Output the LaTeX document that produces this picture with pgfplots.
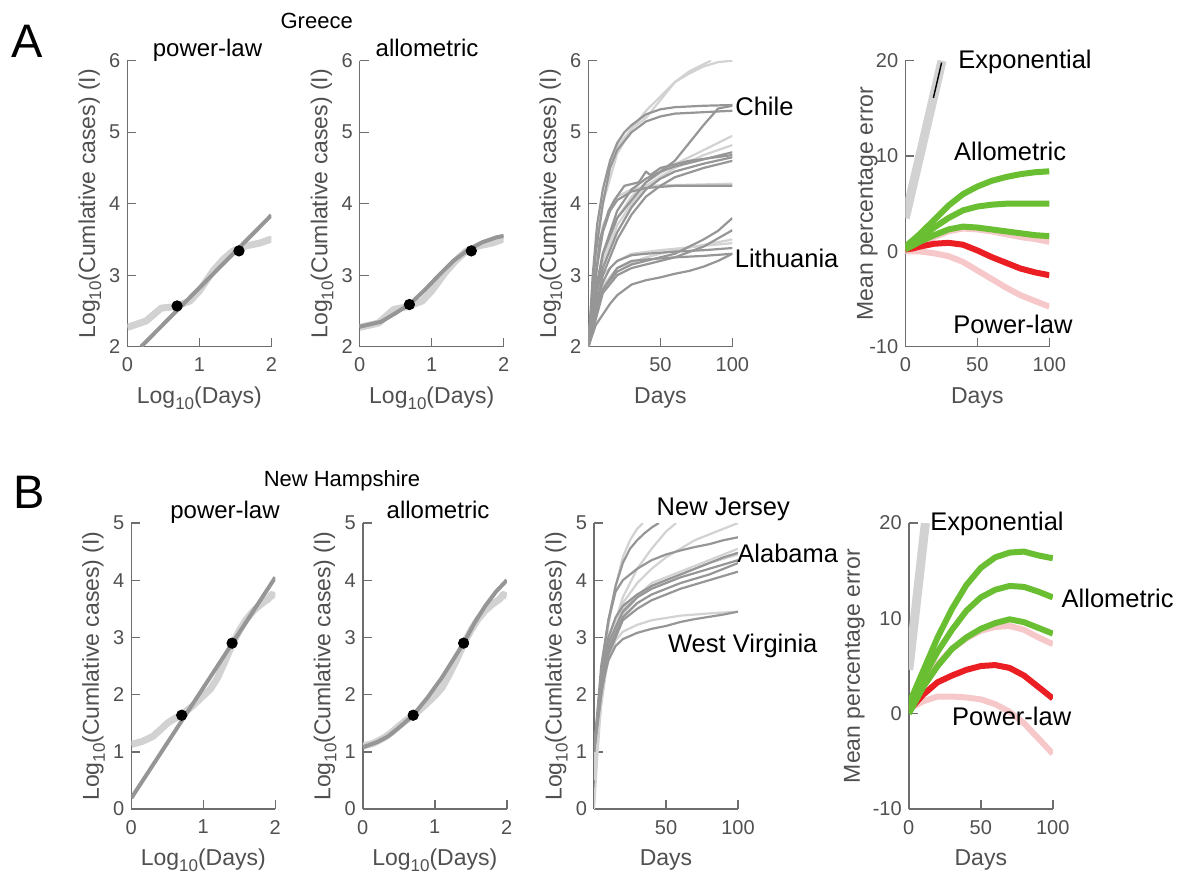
\documentclass[border=0pt]{standalone}
\usepackage{pgfplots}
\pgfplotsset{compat=1.18}
\usepackage{fontspec}
\setmainfont{Liberation Sans}

\definecolor{axgray}{RGB}{110,110,110}
\definecolor{tkgray}{RGB}{80,80,80}
\definecolor{dgray}{RGB}{150,150,150}
\definecolor{lgray}{RGB}{210,210,210}
\definecolor{mgreen}{RGB}{105,190,50}
\definecolor{mred}{RGB}{235,30,35}
\definecolor{mpink}{RGB}{246,200,202}

\newcommand{\sub}[1]{\raisebox{-0.5ex}{\fontsize{8.5}{9}\selectfont #1}}

\pgfplotsset{
  panel/.style={
    scale only axis, width=72pt, height=143pt, anchor=south west,
    axis lines*=left,
    axis line style={draw=axgray, line width=0.7pt, -},
    every tick/.style={draw=axgray, line width=0.7pt},
    tick align=inside, major tick length=4.5pt,
    tick label style={font=\fontsize{10}{12}\selectfont, text=tkgray},
    xticklabel style={yshift=-2pt},
    label style={font=\fontsize{11.5}{13}\selectfont, text=tkgray},
    /pgf/number format/assume math mode=true,
    xlabel style={at={(axis description cs:0.5,-0.198)}, anchor=base},
    ylabel style={at={(axis description cs:-0.225,0.5)}, anchor=base},
  },
  obs/.style={lgray, line width=3.5pt, line join=round},
  fit/.style={dgray, line width=2pt, line join=round},
  dots/.style={only marks, mark=*, mark size=2.6pt, black},
  dk/.style={dgray, line width=1.1pt, line join=round},
  lt/.style={lgray, line width=1.1pt, line join=round},
  gr/.style={mgreen, line width=3pt, line join=round},
  rd/.style={mred, line width=3pt, line join=round},
  pk/.style={mpink, line width=3pt, line join=round},
  ex/.style={lgray, line width=4.5pt},
}
\newcommand{\ann}{\fontsize{12.75}{14}\selectfont}

\begin{document}
\begin{tikzpicture}
\useasboundingbox (0pt,0pt) rectangle (589pt,-437pt);

% ---------------- row A (Greece) ----------------
\begin{axis}[panel, at={(63.7pt,-173.35pt)},
  xmin=0, xmax=2, ymin=2, ymax=6, xtick={0,1,2}, ytick={2,3,4,5,6},
  xlabel={Log\sub{10}(Days)}, ylabel={Log\sub{10}(Cumlative cases) (I)}]
\addplot[obs] coordinates {(0,2.27) (0.26,2.36) (0.47,2.54) (0.66,2.56) (0.87,2.64) (1.0,2.78)
  (1.19,3.06) (1.33,3.22) (1.47,3.34) (1.65,3.41) (1.84,3.45) (1.98,3.5) (2.0,3.46)};
\addplot[fit] coordinates {(0.19,2.0) (2.0,3.84)};
\addplot[dots] coordinates {(0.69,2.57) (1.55,3.34)};
\end{axis}

\begin{axis}[panel, at={(179.85pt,-173.35pt)},
  xmin=0, xmax=2, ymin=2, ymax=6, xtick={0,1,2}, ytick={2,3,4,5,6},
  xlabel={Log\sub{10}(Days)}, ylabel={Log\sub{10}(Cumlative cases) (I)}]
\addplot[obs] coordinates {(0,2.27) (0.26,2.33) (0.47,2.52) (0.66,2.56) (0.87,2.64) (1.0,2.78)
  (1.19,3.04) (1.33,3.2) (1.47,3.33) (1.65,3.41) (1.84,3.45) (1.98,3.5) (2.0,3.46)};
\addplot[fit] coordinates {(0,2.28) (0.3,2.35) (0.5,2.47) (0.7,2.6) (0.9,2.79) (1.1,3.0)
  (1.3,3.2) (1.5,3.35) (1.7,3.46) (1.9,3.53) (2.0,3.55)};
\addplot[dots] coordinates {(0.69,2.59) (1.55,3.34)};
\end{axis}

\begin{axis}[panel, at={(294.2pt,-173.35pt)},
  xmin=0, xmax=100, ymin=2, ymax=6, xtick={50,100}, ytick={2,3,4,5,6},
  xlabel={Days}, ylabel={Log\sub{10}(Cumlative cases) (I)}]
% light series
\addplot[lt] coordinates {(0,2) (3,2.8) (6,3.5) (10,4.0) (15,4.5) (20,4.8) (30,5.05) (40,5.2)
  (50,5.45) (60,5.7) (70,5.82) (80,5.92) (90,5.98) (100,6.0)};
\addplot[lt] coordinates {(0,2) (5,3.3) (10,4.0) (20,4.7) (30,5.05) (40,5.3) (50,5.5) (60,5.7)
  (70,5.85) (85,6.0)};
\addplot[lt] coordinates {(0,2) (10,3.2) (20,3.8) (30,4.1) (40,4.3) (60,4.55) (80,4.75) (100,4.95)};
\addplot[lt] coordinates {(0,2) (10,3.1) (20,3.7) (30,4.0) (40,4.25) (60,4.5) (80,4.68) (100,4.82)};
\addplot[lt] coordinates {(0,2) (5,3.1) (10,3.7) (20,4.1) (30,4.2) (40,4.25) (100,4.28)};
\addplot[lt] coordinates {(0,2) (5,2.7) (10,3.0) (20,3.2) (30,3.3) (50,3.35) (100,3.45)};
\addplot[lt] coordinates {(0,2) (10,2.85) (20,3.1) (40,3.25) (60,3.35) (100,3.5)};
% dark series
\addplot[dk] coordinates {(0,2) (3,3.0) (6,3.7) (10,4.2) (15,4.6) (20,4.85) (25,5.0) (30,5.1)
  (40,5.25) (50,5.32) (60,5.35) (80,5.37) (100,5.38)};
\addplot[dk] coordinates {(0,2) (5,3.3) (10,4.0) (15,4.5) (20,4.75) (30,5.0) (40,5.15) (50,5.22)
  (60,5.26) (80,5.28) (100,5.3)};
\addplot[dk] coordinates {(0,2) (10,3.3) (20,3.8) (30,4.05) (40,4.3) (50,4.45) (60,4.6) (70,4.85)
  (80,5.1) (90,5.33) (100,5.37)};
\addplot[dk] coordinates {(0,2) (5,2.8) (10,3.3) (20,3.9) (30,4.2) (40,4.35) (50,4.45) (60,4.52)
  (80,4.62) (100,4.72)};
\addplot[dk] coordinates {(0,2) (5,2.7) (10,3.1) (20,3.6) (30,3.95) (40,4.2) (50,4.35) (60,4.45)
  (80,4.56) (100,4.65)};
\addplot[dk] coordinates {(0,2) (10,3.0) (20,3.5) (30,3.85) (40,4.1) (50,4.25) (60,4.37) (80,4.5)
  (100,4.6)};
\addplot[dk] coordinates {(0,2) (8,3.5) (14,3.9) (18,4.05) (25,4.25) (35,4.3) (40,4.45) (43,4.4)
  (50,4.5) (70,4.6) (100,4.68)};
\addplot[dk] coordinates {(0,2) (5,3.0) (10,3.6) (15,3.9) (20,4.05) (30,4.17) (40,4.22) (60,4.25)
  (100,4.25)};
\addplot[dk] coordinates {(0,2) (5,2.6) (10,2.9) (15,3.1) (20,3.2) (30,3.28) (40,3.3) (60,3.33)
  (80,3.35) (100,3.38)};
\addplot[dk] coordinates {(0,2) (5,2.5) (10,2.8) (20,3.05) (30,3.15) (40,3.2) (50,3.25) (60,3.3)
  (70,3.4) (80,3.5) (90,3.62) (100,3.8)};
\addplot[dk] coordinates {(0,2) (10,2.75) (20,3.0) (30,3.1) (40,3.15) (60,3.25) (80,3.4) (100,3.63)};
\addplot[dk] coordinates {(0,2) (10,2.8) (20,3.1) (30,3.2) (40,3.22) (60,3.25) (80,3.27) (100,3.3)};
\addplot[dk] coordinates {(0,2) (5,2.3) (10,2.45) (15,2.6) (20,2.72) (30,2.87) (40,2.93) (50,2.97)
  (60,3.02) (70,3.06) (80,3.12) (90,3.2) (100,3.3)};
\end{axis}

\begin{axis}[panel, at={(452.65pt,-173.35pt)},
  xmin=0, xmax=100, ymin=-10, ymax=20, xtick={0,50,100}, ytick={-10,0,10,20},
  xlabel={Days}, ylabel={Mean percentage error}]
\addplot[ex] coordinates {(0,3.5) (25.5,20)};
\addplot[black, line width=0.7pt] coordinates {(19.5,16.1) (25.2,19.8)};
\addplot[pk] coordinates {(0,0) (10,0) (20,-0.2) (30,-0.5) (40,-1.1) (50,-2.0) (60,-2.9) (70,-3.8)
  (80,-4.6) (90,-5.2) (100,-5.8)};
\addplot[pk] coordinates {(0,0) (10,0.8) (20,1.5) (30,2.1) (40,2.4) (50,2.3) (60,2.1) (70,1.8)
  (80,1.5) (90,1.3) (100,1.0)};
\addplot[rd] coordinates {(0,0.2) (5,0.3) (10,0.5) (20,0.8) (30,0.9) (40,0.7) (50,0.1) (60,-0.6)
  (70,-1.2) (80,-1.8) (90,-2.2) (100,-2.5)};
\addplot[gr] coordinates {(0,0.5) (10,1.8) (20,3.3) (30,4.8) (40,6.0) (50,6.8) (60,7.4) (70,7.8)
  (80,8.1) (90,8.3) (100,8.4)};
\addplot[gr] coordinates {(0,0.3) (10,1.3) (20,2.5) (30,3.5) (40,4.3) (50,4.7) (60,4.9) (70,5.0)
  (100,5.0)};
\addplot[gr] coordinates {(0,0.2) (10,1.0) (20,1.7) (30,2.3) (40,2.6) (50,2.5) (60,2.3) (70,2.1)
  (80,1.9) (90,1.7) (100,1.6)};
\end{axis}

% ---------------- row B (New Hampshire) ----------------
\begin{axis}[panel, at={(65.65pt,-404.5pt)},
  xmin=0, xmax=2, ymin=0, ymax=5, xtick={0,1,2}, ytick={0,1,2,3,4,5},
  xlabel={Log\sub{10}(Days)}, ylabel={Log\sub{10}(Cumlative cases) (I)}]
\addplot[obs] coordinates {(0,1.13) (0.15,1.18) (0.3,1.27) (0.4,1.38) (0.5,1.5) (0.6,1.58)
  (0.7,1.65) (0.85,1.8) (1.0,1.98) (1.1,2.1) (1.2,2.3) (1.3,2.58) (1.4,2.87) (1.5,3.12)
  (1.6,3.32) (1.7,3.47) (1.8,3.58) (1.9,3.67) (1.95,3.75) (2.0,3.72)};
\addplot[fit] coordinates {(0,0.19) (2.0,4.05)};
\addplot[dots] coordinates {(0.7,1.64) (1.4,2.9)};
\end{axis}

\begin{axis}[panel, at={(181.4pt,-404.5pt)},
  xmin=0, xmax=2, ymin=0, ymax=5, xtick={0,1,2}, ytick={0,1,2,3,4,5},
  xlabel={Log\sub{10}(Days)}, ylabel={Log\sub{10}(Cumlative cases) (I)}]
\addplot[obs] coordinates {(0,1.1) (0.15,1.15) (0.3,1.25) (0.4,1.34) (0.5,1.45) (0.6,1.55)
  (0.7,1.63) (0.85,1.8) (1.0,1.98) (1.1,2.12) (1.2,2.35) (1.3,2.6) (1.4,2.88) (1.5,3.12)
  (1.6,3.32) (1.7,3.47) (1.8,3.58) (1.9,3.67) (1.95,3.75) (2.0,3.72)};
\addplot[fit] coordinates {(0,1.08) (0.2,1.17) (0.35,1.27) (0.5,1.42) (0.7,1.64) (0.9,1.95)
  (1.1,2.3) (1.25,2.6) (1.4,2.9) (1.55,3.25) (1.7,3.55) (1.85,3.8) (2.0,4.0)};
\addplot[dots] coordinates {(0.7,1.64) (1.4,2.9)};
\end{axis}

\begin{axis}[panel, at={(297pt,-404.5pt)},
  xmin=0, xmax=100, ymin=0, ymax=5, xtick={50,100}, ytick={0,1,2,3,4,5},
  xlabel={Days}, ylabel={Log\sub{10}(Cumlative cases) (I)}]
\addplot[lt] coordinates {(0,0.5) (3,1.5) (6,2.4) (10,3.2) (15,3.9) (20,4.4) (25,4.7) (30,4.9) (34,5.0)};
\addplot[lt] coordinates {(0,0.6) (5,1.8) (10,2.7) (15,3.3) (20,3.7) (30,4.2) (40,4.55) (50,4.85) (57,5.0)};
\addplot[lt] coordinates {(0,1.0) (5,2.2) (10,3.0) (20,3.6) (30,3.95) (40,4.2) (50,4.4) (60,4.55)
  (70,4.7) (80,4.8) (90,4.9) (100,5.0)};
\addplot[lt] coordinates {(0,0.8) (5,2.1) (10,2.8) (20,3.4) (30,3.7) (40,3.9) (60,4.1) (80,4.3) (100,4.45)};
\addplot[lt] coordinates {(0,1.0) (10,2.9) (20,3.5) (40,3.95) (60,4.15) (80,4.35) (100,4.55)};
\addplot[lt] coordinates {(0,0.8) (5,2.0) (10,2.6) (15,2.95) (20,3.1) (30,3.22) (40,3.3) (60,3.38)
  (80,3.42) (100,3.45)};
\addplot[lt] coordinates {(0,0.0) (2,0.8) (5,1.9) (10,2.9) (20,3.5) (30,3.75)};
\addplot[dk] coordinates {(0,1.0) (3,1.8) (6,2.6) (10,3.3) (15,3.9) (20,4.3) (25,4.55) (30,4.7)
  (35,4.82) (40,4.92) (45,5.0)};
\addplot[dk] coordinates {(0,1.0) (5,2.5) (10,3.3) (15,3.8) (20,4.0) (30,4.2) (40,4.35) (50,4.45)
  (60,4.52) (70,4.58) (80,4.63) (90,4.7) (100,4.75)};
\addplot[dk] coordinates {(0,1) (5,2.3) (10,3.0) (15,3.35) (20,3.55) (30,3.75) (40,3.9) (50,4.0)
  (60,4.1) (70,4.2) (80,4.3) (90,4.4) (100,4.48)};
\addplot[dk] coordinates {(0,1) (5,2.2) (10,2.9) (20,3.45) (30,3.7) (40,3.85) (50,3.95) (60,4.05)
  (80,4.2) (100,4.35)};
\addplot[dk] coordinates {(0,1) (5,2.1) (10,2.8) (20,3.35) (30,3.6) (40,3.75) (60,3.95) (80,4.1) (100,4.3)};
\addplot[dk] coordinates {(0,1) (5,2.0) (10,2.7) (20,3.3) (30,3.5) (40,3.65) (50,3.75) (60,3.85)
  (80,4.0) (100,4.15)};
\addplot[dk] coordinates {(0,1) (3,1.6) (6,2.2) (10,2.6) (15,2.85) (20,2.97) (30,3.08) (40,3.15)
  (50,3.2) (60,3.27) (70,3.32) (80,3.36) (90,3.4) (100,3.45)};
\end{axis}

\begin{axis}[panel, at={(454.4pt,-404.5pt)},
  xmin=0, xmax=100, ymin=-10, ymax=20, xtick={0,50,100}, ytick={-10,0,10,20},
  xlabel={Days}, ylabel={Mean percentage error},
  ylabel style={at={(axis description cs:-0.34,0.5)}}]
\addplot[ex] coordinates {(0,4.6) (11.5,20)};
\addplot[pk] coordinates {(0,0.5) (10,1.3) (20,1.8) (30,1.8) (40,1.7) (50,1.5) (60,1.0) (70,0.2)
  (80,-1.0) (90,-2.6) (100,-4.2)};
\addplot[pk] coordinates {(0,0.5) (10,3.0) (20,5.2) (30,6.8) (40,7.9) (50,8.7) (60,9.1) (70,9.2)
  (80,8.8) (90,8.0) (100,7.3)};
\addplot[rd] coordinates {(0,0.3) (10,2.0) (20,3.3) (30,4.0) (40,4.6) (50,5.0) (60,5.1) (70,4.8)
  (80,4.0) (90,2.8) (100,1.6)};
\addplot[gr] coordinates {(0,1) (10,4.5) (20,8) (30,11) (40,13.5) (50,15.3) (60,16.4) (70,16.9)
  (80,17.0) (90,16.6) (100,16.3)};
\addplot[gr] coordinates {(0,0.3) (10,3.8) (20,6.5) (30,8.8) (40,10.8) (50,12.2) (60,13.0) (70,13.4)
  (80,13.3) (90,12.8) (100,12.2)};
\addplot[gr] coordinates {(0,0) (10,2.8) (20,5.0) (30,6.8) (40,8.0) (50,8.9) (60,9.5) (70,9.9)
  (80,9.6) (90,9.0) (100,8.4)};
\end{axis}

% ---------------- text ----------------
\begin{scope}[every node/.style={inner sep=0pt, text=black}]
\node[anchor=base, font=\fontsize{23.5}{26}\selectfont] at (13.5pt,-28.5pt) {A};
\node[anchor=base, font=\fontsize{23.5}{26}\selectfont] at (14.35pt,-254.15pt) {B};
\node[anchor=base, font=\fontsize{11}{13}\selectfont] at (158.35pt,-14.15pt) {Greece};
\node[anchor=base, font=\fontsize{11}{13}\selectfont] at (171pt,-243pt) {New Hampshire};
\node[anchor=base, font=\fontsize{12}{14}\selectfont] at (103.75pt,-28pt) {power-law};
\node[anchor=base, font=\fontsize{12}{14}\selectfont] at (213.5pt,-28.35pt) {allometric};
\node[anchor=base, font=\fontsize{12}{14}\selectfont] at (112.5pt,-259.15pt) {power-law};
\node[anchor=base, font=\fontsize{12}{14}\selectfont] at (219pt,-259.15pt) {allometric};
\node[anchor=base west, font=\ann] at (367.5pt,-57.5pt) {Chile};
\node[anchor=base west, font=\ann] at (367.25pt,-133.5pt) {Lithuania};
\node[anchor=base west, font=\ann] at (479pt,-34.15pt) {Exponential};
\node[anchor=base west, font=\ann] at (476.9pt,-80.35pt) {Allometric};
\node[anchor=base west, font=\ann] at (476.5pt,-166.65pt) {Power-law};
\node[anchor=base west, font=\ann] at (328.15pt,-257.5pt) {New Jersey};
\node[anchor=base west, font=\ann] at (368.5pt,-281.35pt) {Alabama};
\node[anchor=base west, font=\ann] at (333.85pt,-326.15pt) {West Virginia};
\node[anchor=base west, font=\ann] at (465pt,-265.35pt) {Exponential};
\node[anchor=base west, font=\ann] at (530.65pt,-303.85pt) {Allometric};
\node[anchor=base west, font=\ann] at (475.9pt,-362.85pt) {Power-law};
\end{scope}
\end{tikzpicture}
\end{document}
